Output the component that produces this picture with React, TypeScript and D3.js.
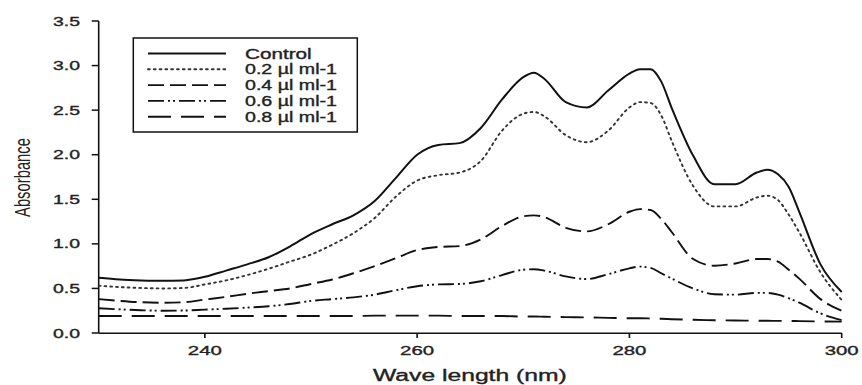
import React from "react";
import * as d3 from "d3";

const wavelengths = [230, 232, 234, 236, 238, 240, 242, 244, 246, 248, 250, 252, 254, 256, 258, 260, 262, 264, 266, 268, 270, 271, 272, 274, 276, 278, 280, 281, 282, 283, 284, 286, 288, 290, 292, 293, 294, 295, 296, 298, 300];

const control = [0.62, 0.60, 0.59, 0.585, 0.59, 0.63, 0.70, 0.77, 0.85, 0.97, 1.11, 1.22, 1.32, 1.48, 1.74, 2.00, 2.11, 2.13, 2.30, 2.62, 2.87, 2.92, 2.85, 2.59, 2.53, 2.72, 2.91, 2.96, 2.96, 2.82, 2.52, 1.99, 1.67, 1.67, 1.80, 1.83, 1.78, 1.64, 1.36, 0.77, 0.46];
const dose02 = [0.53, 0.515, 0.505, 0.50, 0.505, 0.545, 0.59, 0.65, 0.72, 0.80, 0.88, 0.99, 1.12, 1.29, 1.53, 1.71, 1.77, 1.80, 1.93, 2.27, 2.46, 2.48, 2.43, 2.22, 2.14, 2.27, 2.53, 2.59, 2.58, 2.44, 2.15, 1.65, 1.42, 1.42, 1.52, 1.54, 1.49, 1.33, 1.13, 0.68, 0.37];
const dose04 = [0.38, 0.36, 0.345, 0.34, 0.345, 0.375, 0.405, 0.44, 0.47, 0.50, 0.55, 0.60, 0.67, 0.75, 0.84, 0.93, 0.965, 0.975, 1.05, 1.20, 1.31, 1.32, 1.30, 1.18, 1.14, 1.22, 1.36, 1.39, 1.38, 1.28, 1.13, 0.83, 0.755, 0.78, 0.83, 0.83, 0.80, 0.71, 0.61, 0.38, 0.25];
const dose06 = [0.277, 0.265, 0.255, 0.25, 0.252, 0.262, 0.272, 0.285, 0.30, 0.325, 0.36, 0.38, 0.40, 0.43, 0.48, 0.525, 0.545, 0.55, 0.58, 0.65, 0.71, 0.715, 0.70, 0.635, 0.605, 0.66, 0.725, 0.745, 0.73, 0.67, 0.61, 0.50, 0.435, 0.43, 0.45, 0.45, 0.43, 0.39, 0.34, 0.22, 0.145];
const dose08 = [0.19, 0.19, 0.19, 0.19, 0.19, 0.19, 0.19, 0.19, 0.19, 0.19, 0.19, 0.19, 0.19, 0.195, 0.195, 0.195, 0.195, 0.19, 0.19, 0.19, 0.185, 0.185, 0.182, 0.178, 0.175, 0.17, 0.165, 0.165, 0.163, 0.16, 0.155, 0.148, 0.143, 0.14, 0.138, 0.137, 0.136, 0.135, 0.133, 0.13, 0.128];

const seriesNames = ["Control", "0.2 µl ml-1", "0.4 µl ml-1", "0.6 µl ml-1", "0.8 µl ml-1"];
const seriesValues = [control, dose02, dose04, dose06, dose08];
const xTickValues = [240, 260, 280, 300];
const yTickValues = [0, 0.5, 1.0, 1.5, 2.0, 2.5, 3.0, 3.5];
const xTitle = "Wave length (nm)";
const yTitle = "Absorbance";

const dashes = ["", "1.8,4", "16,6", "16,4,2,3,2,4", "23,10"];
const widths = [2, 1.9, 1.9, 1.9, 1.9];
const strokes = ["#111", "#333", "#111", "#111", "#111"];
const legendWidths = [66.7, 92, 92, 92, 92];

const FONT = "'Liberation Sans', Arial, Helvetica, sans-serif";
const INK = "#111";
const TXT = "#222";

export default function App() {
  const x = d3.scaleLinear().domain([230, 300]).range([98.7, 841.7]);
  const y = d3.scaleLinear().domain([0, 3.5]).range([333, 21]);

  const line = d3
    .line<number>()
    .x((_, i) => x(wavelengths[i]))
    .y((d) => y(d))
    .curve(d3.curveMonotoneX);

  const legendTop = 53.5;
  const legendStep = 15.8;
  const textStroke = { stroke: TXT, strokeWidth: 0.35 };

  return (
    <svg
      width={862}
      height={385}
      style={{ position: "absolute", left: 0, top: 0, background: "#fff" }}
      fontFamily={FONT}
    >
      <rect x={0} y={0} width={862} height={385} fill="#fff" />
      {/* axes */}
      <line x1={x(230)} x2={x(230)} y1={y(3.5)} y2={y(0)} stroke={INK} strokeWidth={1.6} />
      <line x1={x(230)} x2={x(300)} y1={y(0) + 0.3} y2={y(0) + 0.3} stroke={INK} strokeWidth={1.6} />
      {yTickValues.map((t) => (
        <g key={"y" + t}>
          <line x1={x(230) - 7} x2={x(230)} y1={y(t)} y2={y(t)} stroke={INK} strokeWidth={1.5} />
          <text
            x={80}
            y={y(t) + 4.6}
            textAnchor="end"
            fontSize={13}
            fill={TXT}
            {...textStroke}
            textLength={27}
            lengthAdjust="spacingAndGlyphs"
          >
            {t.toFixed(1)}
          </text>
        </g>
      ))}
      {xTickValues.map((t) => (
        <g key={"x" + t}>
          <line x1={x(t)} x2={x(t)} y1={y(0)} y2={y(0) + 5} stroke={INK} strokeWidth={1.6} />
          <text
            x={x(t) - 17}
            y={355}
            fontSize={13}
            fill={TXT}
            {...textStroke}
            textLength={34}
            lengthAdjust="spacingAndGlyphs"
          >
            {t}
          </text>
        </g>
      ))}
      <text
        x={373}
        y={381}
        fontSize={16}
        fill={TXT}
        {...textStroke}
        textLength={193.7}
        lengthAdjust="spacingAndGlyphs"
      >
        {xTitle}
      </text>
      <g transform="translate(21.7,177.5) scale(1.5,1) rotate(-90)">
        <text x={0} y={5.3} textAnchor="middle" fontSize={14.8} fill={TXT}>
          {yTitle}
        </text>
      </g>
      {/* series */}
      {seriesValues.map((vals, i) => (
        <path
          key={"s" + i}
          d={line(vals) || ""}
          fill="none"
          stroke={strokes[i]}
          strokeWidth={widths[i]}
          strokeDasharray={dashes[i] || undefined}
          strokeLinecap={i === 1 ? "round" : "butt"}
        />
      ))}
      {/* legend */}
      <rect x={133.3} y={38} width={224} height={94} fill="#fff" stroke={INK} strokeWidth={1.5} />
      {seriesNames.map((name, i) => {
        const ly = legendTop + i * legendStep;
        return (
          <g key={"l" + i}>
            <line
              x1={148}
              x2={226}
              y1={ly}
              y2={ly}
              stroke={strokes[i]}
              strokeWidth={widths[i]}
              strokeDasharray={dashes[i] || undefined}
              strokeLinecap={i === 1 ? "round" : "butt"}
            />
            <text
              x={245}
              y={ly + 5}
              fontSize={14}
              fill={TXT}
              {...textStroke}
              textLength={legendWidths[i]}
              lengthAdjust="spacingAndGlyphs"
            >
              {name}
            </text>
          </g>
        );
      })}
    </svg>
  );
}
